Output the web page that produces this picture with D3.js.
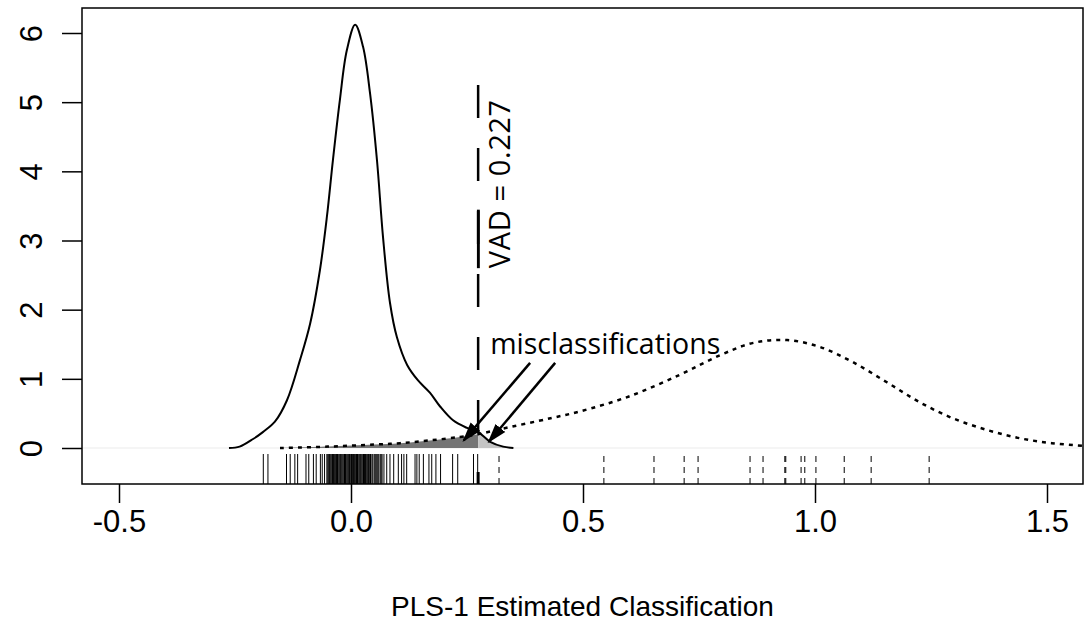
<!DOCTYPE html>
<html>
<head>
    <title>PLS-1 Estimated Classification</title>
    <style>
        body { margin: 0; background: #fff; }
        .axis text { font-family: "Liberation Sans", Arial, sans-serif; fill: #000; }
        .note { font-family: "Open Sans", "Noto Sans", sans-serif; fill: #000; }
    </style>
    <script src="https://cdn.jsdelivr.net/npm/d3@7/dist/d3.min.js"></script>
</head>
<body>
    <svg id="chart"></svg>

    <script>
        // density of class 0 (solid line): [x, density]
        const densityA = [
            [-0.263, 0], [-0.24, 0.02], [-0.211, 0.13], [-0.19, 0.23], [-0.164, 0.38],
            [-0.138, 0.69], [-0.11, 1.27], [-0.088, 1.8], [-0.067, 2.57], [-0.052, 3.34],
            [-0.039, 4.16], [-0.024, 5.03], [-0.009, 5.75], [0.009, 6.12], [0.026, 5.8],
            [0.041, 5.13], [0.056, 4.16], [0.069, 3.05], [0.084, 2.1], [0.099, 1.6],
            [0.121, 1.2], [0.144, 0.98], [0.17, 0.8], [0.192, 0.6], [0.22, 0.4],
            [0.25, 0.29], [0.274, 0.23], [0.30, 0.09], [0.328, 0.02], [0.35, 0]
        ];
        // density of class 1 (dotted line)
        const densityB = [
            [-0.153, 0.0], [-0.05, 0.02], [0.05, 0.05], [0.106, 0.07], [0.17, 0.11],
            [0.235, 0.16], [0.274, 0.2], [0.32, 0.27], [0.43, 0.43], [0.494, 0.53],
            [0.601, 0.75], [0.709, 1.06], [0.795, 1.34], [0.867, 1.52], [0.94, 1.56],
            [1.011, 1.46], [1.082, 1.24], [1.155, 0.95], [1.226, 0.66], [1.297, 0.43],
            [1.371, 0.26], [1.442, 0.14], [1.51, 0.07], [1.58, 0.03]
        ];
        // rug values
        const rugA = [
            -0.189, -0.179, -0.139, -0.131, -0.121, -0.115, -0.097, -0.091, -0.081, -0.075,
            -0.066, -0.062, -0.057, -0.052, -0.050, -0.048, -0.046, -0.045, -0.043, -0.041,
            -0.040, -0.038, -0.037, -0.035, -0.034, -0.032, -0.031, -0.029, -0.028, -0.026,
            -0.024, -0.023, -0.021, -0.019, -0.017, -0.015, -0.014, -0.012, -0.011, -0.009,
            -0.007, -0.005, -0.003, -0.002, 0.000, 0.001, 0.003, 0.005, 0.006, 0.008,
            0.009, 0.011, 0.012, 0.014, 0.015, 0.017, 0.019, 0.020, 0.022, 0.024,
            0.026, 0.027, 0.029, 0.031, 0.032, 0.034, 0.036, 0.038, 0.039, 0.041,
            0.042, 0.045, 0.047, 0.050, 0.052, 0.054, 0.056, 0.058, 0.060, 0.063,
            0.065, 0.067, 0.071, 0.077, 0.084, 0.092, 0.102, 0.109, 0.114, 0.120,
            0.138, 0.142, 0.147, 0.156, 0.168, 0.174, 0.183, 0.193, 0.219, 0.230,
            0.264, 0.273
        ];
        const rugB = [0.319, 0.545, 0.653, 0.718, 0.748, 0.860, 0.888, 0.935, 0.937,
            0.970, 0.978, 1.002, 1.063, 1.121, 1.246];
        const rugMarked = [0.274];

        const xTicks = [-0.5, 0, 0.5, 1, 1.5];
        const xTickLabels = ["-0.5", "0.0", "0.5", "1.0", "1.5"];
        const yTicks = [0, 1, 2, 3, 4, 5, 6];
        const yTickLabels = ["0", "1", "2", "3", "4", "5", "6"];

        const vad = 0.274;          // threshold line position
        const vadTop = 5.25;
        const vadLabel = "0.227";
        const noteText = "misclassifications";
        const arrows = [
            { x1: 0.386, y1: 1.23, x2: 0.243, y2: 0.11 },
            { x1: 0.44, y1: 1.23, x2: 0.297, y2: 0.09 }
        ];

        const width = 1085;
        const height = 632;
        const plot = { left: 82, top: 8, right: 1083, bottom: 484 };

        const svg = d3.select('#chart')
            .attr('width', width)
            .attr('height', height);

        const x = d3.scaleLinear().domain([-0.5, 1.5]).range([119, 1047]);
        const y = d3.scaleLinear().domain([0, 6]).range([448, 33]);

        const defs = svg.append('defs');
        defs.append('clipPath').attr('id', 'plotclip')
            .append('rect')
            .attr('x', plot.left).attr('y', plot.top)
            .attr('width', plot.right - plot.left).attr('height', plot.bottom - plot.top);

        defs.append('clipPath').attr('id', 'leftOfVad')
            .append('rect')
            .attr('x', plot.left).attr('y', plot.top)
            .attr('width', x(vad) - plot.left).attr('height', plot.bottom - plot.top);

        defs.append('clipPath').attr('id', 'rightOfVad')
            .append('rect')
            .attr('x', x(vad)).attr('y', plot.top)
            .attr('width', plot.right - x(vad)).attr('height', plot.bottom - plot.top);

        defs.append('marker')
            .attr('id', 'head')
            .attr('viewBox', '0 0 10 10')
            .attr('refX', 9).attr('refY', 5)
            .attr('markerWidth', 20).attr('markerHeight', 20)
            .attr('markerUnits', 'userSpaceOnUse')
            .attr('orient', 'auto')
            .append('path')
            .attr('d', 'M0,1.8 L10,5 L0,8.2 Z')
            .attr('fill', '#000');

        const g = svg.append('g').attr('clip-path', 'url(#plotclip)');

        // zero line
        g.append('line')
            .attr('x1', plot.left).attr('x2', plot.right)
            .attr('y1', y(0)).attr('y2', y(0))
            .attr('stroke', '#ebebeb').attr('stroke-width', 1);

        const area = d3.area()
            .x(d => x(d[0]))
            .y0(y(0))
            .y1(d => y(d[1]))
            .curve(d3.curveCatmullRom);

        const line = d3.line()
            .x(d => x(d[0]))
            .y(d => y(d[1]))
            .curve(d3.curveCatmullRom);

        // shaded misclassification areas
        g.append('path')
            .attr('d', area(densityB))
            .attr('fill', '#747474')
            .attr('clip-path', 'url(#leftOfVad)');

        g.append('path')
            .attr('d', area(densityA))
            .attr('fill', '#c4c4c4')
            .attr('clip-path', 'url(#rightOfVad)');

        // density curves
        g.append('path')
            .attr('d', line(densityA))
            .attr('fill', 'none')
            .attr('stroke', '#000')
            .attr('stroke-width', 2);

        g.append('path')
            .attr('d', line(densityB))
            .attr('fill', 'none')
            .attr('stroke', '#000')
            .attr('stroke-width', 2.5)
            .attr('stroke-dasharray', '4,5');

        // rugs
        const rugLen = 30;
        g.append('g').selectAll('line')
            .data(rugA)
            .enter().append('line')
            .attr('x1', d => x(d)).attr('x2', d => x(d))
            .attr('y1', plot.bottom).attr('y2', plot.bottom - rugLen)
            .attr('stroke', '#000').attr('stroke-width', 1);

        g.append('g').selectAll('line')
            .data(rugB)
            .enter().append('line')
            .attr('x1', d => x(d)).attr('x2', d => x(d))
            .attr('y1', plot.bottom).attr('y2', plot.bottom - rugLen + 2)
            .attr('stroke', '#000').attr('stroke-width', 1)
            .attr('stroke-dasharray', '6,5');

        g.append('g').selectAll('line')
            .data(rugMarked)
            .enter().append('line')
            .attr('x1', d => x(d)).attr('x2', d => x(d))
            .attr('y1', plot.bottom).attr('y2', plot.bottom - 12)
            .attr('stroke', '#000').attr('stroke-width', 3);

        // VAD threshold
        g.append('line')
            .attr('x1', x(vad)).attr('x2', x(vad))
            .attr('y1', y(vadTop)).attr('y2', y(0))
            .attr('stroke', '#000')
            .attr('stroke-width', 2.5)
            .attr('stroke-dasharray', '33,30');

        const vadText = svg.append('text')
            .attr('class', 'note')
            .attr('transform', `translate(${x(0.3425)},${y(2.6)}) rotate(-90)`)
            .attr('font-size', 29)
            .attr('letter-spacing', 0.6);
        vadText.append('tspan').style('text-decoration', 'overline').text('VAD');
        vadText.append('tspan').text(' = ' + vadLabel);

        svg.append('text')
            .attr('class', 'note')
            .attr('x', x(0.30))
            .attr('y', y(1.36))
            .attr('font-size', 28.5)
            .text(noteText);

        svg.append('g').selectAll('line')
            .data(arrows)
            .enter().append('line')
            .attr('x1', d => x(d.x1)).attr('y1', d => y(d.y1))
            .attr('x2', d => x(d.x2)).attr('y2', d => y(d.y2))
            .attr('stroke', '#000')
            .attr('stroke-width', 2.5)
            .attr('marker-end', 'url(#head)');

        // axes
        const xAxis = svg.append('g')
            .attr('class', 'axis')
            .attr('transform', `translate(0,${plot.bottom})`)
            .call(d3.axisBottom(x)
                .tickValues(xTicks)
                .tickSize(19)
                .tickPadding(7)
                .tickFormat((d, i) => xTickLabels[i]));
        xAxis.select('.domain').remove();
        xAxis.selectAll('line').attr('stroke-width', 1.5);
        xAxis.selectAll('text').attr('font-size', 31);

        const yAxis = svg.append('g')
            .attr('class', 'axis')
            .attr('transform', `translate(${plot.left},0)`)
            .call(d3.axisLeft(y)
                .tickValues(yTicks)
                .tickSize(20)
                .tickFormat((d, i) => yTickLabels[i]));
        yAxis.select('.domain').remove();
        yAxis.selectAll('line').attr('stroke-width', 1.5);
        yAxis.selectAll('text')
            .attr('font-size', 31)
            .attr('transform', 'rotate(-90)')
            .attr('x', 0)
            .attr('y', -40)
            .attr('dy', 0)
            .attr('text-anchor', 'middle');

        // plot box
        svg.append('rect')
            .attr('x', plot.left).attr('y', plot.top)
            .attr('width', plot.right - plot.left)
            .attr('height', plot.bottom - plot.top)
            .attr('fill', 'none')
            .attr('stroke', '#000')
            .attr('stroke-width', 1.5);

        svg.append('text')
            .attr('class', 'axis')
            .attr('x', (plot.left + plot.right) / 2)
            .attr('y', 616)
            .attr('text-anchor', 'middle')
            .attr('font-family', '"Liberation Sans", Arial, sans-serif')
            .attr('font-size', 28)
            .text('PLS-1 Estimated Classification');
    </script>
</body>
</html>
